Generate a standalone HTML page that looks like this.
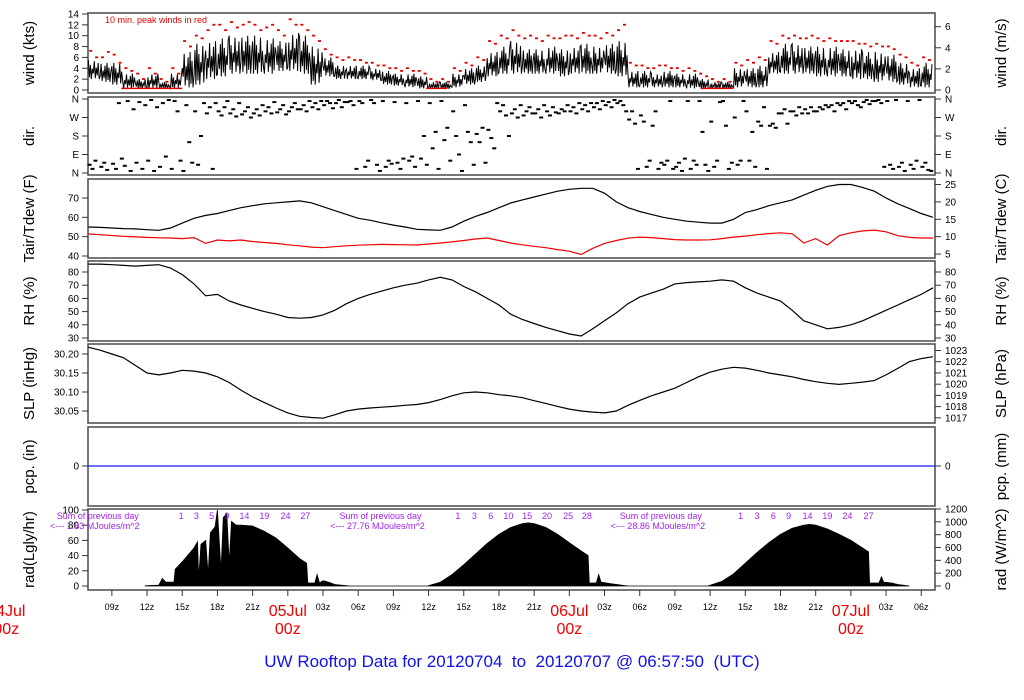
<!DOCTYPE html>
<html><head><meta charset="utf-8"><style>
html,body{margin:0;padding:0;background:#fff;}
svg{display:block;font-family:"Liberation Sans",Arial,sans-serif;}
</style></head><body>
<svg id="chart" width="1024" height="700" viewBox="0 0 1024 700" xmlns="http://www.w3.org/2000/svg">
<text x="512" y="667" text-anchor="middle" font-size="17" fill="#1010ee" style="white-space:pre">UW Rooftop Data for 20120704  to  20120707 @ 06:57:50  (UTC)</text>
</svg>
<script>
// ---- data (hourly, starting hour 7 of 04Jul UTC) ----
const H0 = 7;
const windHi = [5.5,5,5,3,2,3,1.5,3,7,8.5, 9,9.5,10,10,10,9.5,9,10.5,10,8, 6,4.5,4.5,4.5,4,3.5,3,3,2.5,1.5, 1.5,3,4,4.5,7,8,9,7.5,7.5,8, 7.5,8,8.5,8,8.5,9,3.5,3.5,3,3.5, 3,3,2,1.5,1.5,4,4,4.5,7,8.5, 8.5,8,8,8,7.5,7.5,7,7,6.5,5, 4,5];
const windLo = [2,1.5,1,0.3,0.3,0.3,0.3,0.3,0.5,1, 2,2.5,3,3,3,3,3.5,3.5,3,1, 2.5,2,2,2,1.8,1,0.8,0.5,0.3,0.2, 0.2,0.5,1,1.5,2.5,3,3,3,3,3, 2.5,3,3,3,3,2.5,0.5,0.5,0.5,0.5, 0.5,0.3,0.2,0.2,0.2,0.5,0.5,0.5,3,3, 3,3,2.5,2.5,2.5,2,2,1.5,1.5,1, 0.5,0.5];
const peakA = [7.2,6,6.5,4,3,4,2,4,9,10, 11,12,12.5,12,12,11.5,11,13,12,10, 7.5,6,6,5.5,5,4.5,4,4,3.5,2, 2,4,5,6,9,10,11,9.5,9.5,10, 9.5,10,10.5,10,10.5,11,5,4.5,4,4.5, 4,4,3,2,2,5,5.5,6,9,10, 10,9.5,9.5,9.5,9,9,8.5,8.5,8,6.5, 5,6];
const peakB = [6,7,5,3.5,2,3,1.5,3,8,9.5, 12,11,11.5,12.5,11,12,10,12,11,9, 6.5,5.5,5.5,5,4.5,4,3.5,3.5,3,1.5, 1.5,3.5,4.5,5.5,8.5,9.5,10,10,9,9.5, 10,9.5,10,9.5,10,12,4.5,4,4.5,4, 3.5,3.5,2.5,1.5,1.5,4.5,5,5.5,8.5,9.5, 9.5,10,9,9,9,8.5,8,8,7.5,6, 4.5,5.5];
const calmStart = [9.8, 35.8, 59.2];
const calmEnd = [15, 37.6, 62];
const dirA = [40,30,45,35,50,60,30,20,10,300, 290,300,290,285,290,300,295,300,310,320, 330,340,345,350,355,350,345,340,350,340, 350,300,330,190,210,300,290,280,290,300, 290,300,310,320,330,340,260,280,230,40, 30,350,350,250,350,270,300,250,230,290, 300,310,300,320,330,340,345,350,350,30, 40,30];
const dirB = [20,50,20,350,345,355,340,350,330,40, 320,280,310,300,310,320,310,320,330,340, 350,355,350,340,340,30,50,60,70,120, 160,180,200,150,170,330,310,300,310,280, 310,320,330,340,345,350,300,250,300,60, 50,20,200,30,230,40,60,230,240,310, 280,290,320,330,340,350,355,355,40,50, 20,50];
const dirC = [60,15,340,10,20,10,80,300,150,180, 20,320,275,320,280,290,330,340,300,310, 340,320,330,30,40,60,20,80,180,200, 220,90,150,220,120,280,270,320,270,320, 300,290,300,310,320,330,240,30,20,350, 10,60,40,60,20,60,200,320,220,240, 320,320,310,300,310,330,335,340,20,10, 60,15];
const dirD = [null,null,70,310,330,320,355,60,50,340, 340,350,340,270,330,345,285,310,350,350, 315,345,20,60,10,45,70,30,40,20, 60,10,40,50,340,180,330,290,330,295, 330,340,340,350,355,300,20,60,50,20, 70,40,10,345,50,350,30,20,290,300, 290,300,330,340,350,320,350,30,355,350, 355,10];
const tair = [55,54.8,54.5,54.2,54,53.6,53.3,54.5,57,59.5, 61,62,63.5,65,66,67,67.5,68,68.5,67.5, 65.5,63.5,61.5,59.5,58.5,57.2,56,55,53.8,53.5, 53.3,55,58,60.5,62.5,65,67.4,69,70.5,72, 73.5,74.5,75,75,72.5,68,65,63,61.5,60, 59,58,57.5,57,57,59,62.5,64,66,67.5, 69,71.5,74,76,77,77,75.5,73.5,70,67, 64.5,62,60];
const tdew = [51.4,51,50.6,50.2,49.9,49.6,49.4,49.3,49,49.5, 46.5,48.3,47.8,48.3,47.5,47,46.5,45.8,45.3,44.6, 44.3,44.8,45.3,45.6,45.8,46,45.9,45.8,45.7,46.2, 46.7,47.3,48,48.8,49.3,48,46.7,45.8,45,44.3, 43.3,42.5,40.8,44,46.5,48,49.2,49.8,49.5,49, 48.5,48.3,48.3,48.4,49,49.8,50.3,51,51.6,52, 51.5,46.7,49,45.7,50.5,52,53,53.4,52.5,50.5, 49.6,49.3,49.3];
const rh = [86,86,85.5,85,84.5,85,85.5,83,78,71, 62,63,58,55,52.5,50,48,45.5,45,45.5, 47.5,51,56,60,63,65.5,68,70,71.5,74, 76,74,69,65,60,55,48,44,41,38, 35.5,33,31.5,37,43,49,56,61,64,67, 71,72,72.5,73,74,73,68,64,61,58, 51,43,40,37,38,40,43,47,51,55, 59,63,68];
const slp = [30.218,30.21,30.2,30.19,30.17,30.15,30.145,30.15,30.157,30.155, 30.15,30.14,30.125,30.105,30.087,30.072,30.058,30.045,30.036,30.033, 30.031,30.04,30.05,30.055,30.058,30.06,30.062,30.065,30.067,30.072, 30.08,30.09,30.098,30.1,30.098,30.093,30.09,30.085,30.077,30.07, 30.062,30.055,30.05,30.047,30.045,30.05,30.065,30.078,30.09,30.1, 30.11,30.125,30.14,30.152,30.16,30.165,30.163,30.157,30.15,30.145, 30.14,30.133,30.127,30.123,30.12,30.123,30.126,30.13,30.145,30.162, 30.18,30.188,30.193];
const pcp = [0, 0];
const radHours = [11.8,12,13,13.3,13.6,14.3,14.4,15,16,16.3,16.4,16.6,17,17.2,17.4,17.8,18,18.3,18.5,18.8,19,19.2,19.6,20,21,22,23,24,25,25.6,25.7,26.3,26.5,26.7,27,27.5,28,29.3,
  35.9,37,38,39,40,41,42,43,44,44.5,45,46,47,48,49,49.6,49.7,50.3,50.5,50.7,51.5,53,
  59.8,60,61,62,63,64,65,66,67,68,68.5,69,70,71,72,73,73.5,73.6,74.4,74.6,74.8,75.5,76,77];
const radVals = [0,0.5,1,10,5,5,22,32,50,58,10,55,60,15,70,78,100,20,90,95,30,85,80,80,79,72,63,50,36,30,4,4,15,4,7,5,2,0,
  0,5,15,28,42,56,68,77,82,83,82,77,68,57,46,40,4,4,15,5,3,0,
  0,1,6,16,30,44,57,68,76,80,81,80,75,68,60,50,45,4,4,12,5,4,2,0];
const sunLabels1 = ["1","3","5","9","14","19","24","27"];
const sunHours1 = [14.9,16.2,17.5,18.8,20.3,22,23.8,25.5];
const sunLabels2 = ["1","3","6","10","15","20","25","28"];
const sunHours2 = [38.5,39.9,41.3,42.8,44.4,46.1,47.9,49.5];
const sunLabels3 = ["1","3","6","9","14","19","24","27"];
const sunHours3 = [62.6,64,65.4,66.7,68.3,70,71.7,73.5];
const radSums = ["1.83","27.76","28.86"];
const radSumHours = [7.8,31.9,55.8];
const tickHours = [9,12,15,18,21,24,27,30,33,36,39,42,45,48,51,54,57,60,63,66,69,72,75,78];
const tickLabels = ["09z","12z","15z","18z","21z","","03z","06z","09z","12z","15z","18z","21z","","03z","06z","09z","12z","15z","18z","21z","","03z","06z"];
const dayHours = [0,24,48,72];
const dayLabels = ["04Jul","05Jul","06Jul","07Jul"];

// ---- geometry ----
const NS = "http://www.w3.org/2000/svg";
const svg = document.getElementById("chart");
const PL = 88, PR = 935;
function X(h){ return 6.3 + 11.73*h; }
function mk(tag, attrs, parent){
  const e = document.createElementNS(NS, tag);
  for (const k in attrs) e.setAttribute(k, attrs[k]);
  (parent||svg).appendChild(e);
  return e;
}
function txt(s, x, y, size, fill, anchor, parent){
  const t = mk("text", {x:x, y:y, "font-size":size, fill:fill||"#000", "text-anchor":anchor||"middle"}, parent);
  t.textContent = s;
  return t;
}
const panels = [
  {name:"wind", top:13, bot:93, left:"wind (kts)", right:"wind (m/s)"},
  {name:"dir", top:97, bot:175, left:"dir.", right:"dir."},
  {name:"temp", top:179, bot:258, left:"Tair/Tdew (F)", right:"Tair/Tdew (C)"},
  {name:"rh", top:261, bot:341, left:"RH (%)", right:"RH (%)"},
  {name:"slp", top:344, bot:423, left:"SLP (inHg)", right:"SLP (hPa)"},
  {name:"pcp", top:427, bot:506, left:"pcp. (in)", right:"pcp. (mm)"},
  {name:"rad", top:509, bot:590, left:"rad(Lgly/hr)", right:"rad (W/m^2)"}
];
const yWind = v => 90 - v*5.43;
const yDir = d => 173 - d*(74/360);
const yT = f => 256 - (f-40)*1.933;
const yRH = r => 338 - (r-30)*1.32;
const yP = p => 411 - (p-30.05)*380;
const yPcp = v => 466 - v*100;
const yRad = v => 586 - v*0.76;

panels.forEach(p => {
  const g = mk("g", {});
  
  
  const r = mk("rect", {x:PL, y:p.top, width:PR-PL, height:p.bot-p.top, fill:"none", stroke:"#555", "stroke-width":1.6}, g);
  
  
  const cy = (p.top+p.bot)/2;
  const l = txt(p.left, 0, 0, 15, "#000", "middle", g);
  l.setAttribute("transform", "translate(34," + cy + ") rotate(-90)");
  
  
  const rt = txt(p.right, 0, 0, 15, "#000", "middle", g);
  rt.setAttribute("transform", "translate(1006," + cy + ") rotate(-90)");
  
  
});

function leftTicks(vals, labels, yf, name){
  vals.forEach((v,i) => {
    const y = yf(v);
    const t = mk("line", {x1:82, x2:88, y1:y, y2:y, stroke:"#333"});
    
    
    const l = txt(labels[i], 79, y+3.5, 10, "#000", "end");
    
    
  });
}
function rightTicks(vals, labels, yf, name){
  vals.forEach((v,i) => {
    const y = yf(v);
    const t = mk("line", {x1:935, x2:941, y1:y, y2:y, stroke:"#333"});
    
    
    const l = txt(labels[i], 945, y+3.5, 10, "#000", "start");
    
    
  });
}
leftTicks([0,2,4,6,8,10,12,14], ["0","2","4","6","8","10","12","14"], yWind, "wind");
rightTicks([0,2,4,6].map(v=>v*1.944), ["0","2","4","6"], yWind, "wind");
leftTicks([0,90,180,270,360], ["N","E","S","W","N"], yDir, "dir");
rightTicks([0,90,180,270,360], ["N","E","S","W","N"], yDir, "dir");
leftTicks([40,50,60,70], ["40","50","60","70"], yT, "temp");
rightTicks([5,10,15,20,25].map(c=>c*1.8+32), ["5","10","15","20","25"], yT, "temp");
leftTicks([30,40,50,60,70,80], ["30","40","50","60","70","80"], yRH, "rh");
rightTicks([30,40,50,60,70,80], ["30","40","50","60","70","80"], yRH, "rh");
leftTicks([30.05,30.10,30.15,30.20], ["30.05","30.10","30.15","30.20"], yP, "slp");
rightTicks([1017,1018,1019,1020,1021,1022,1023].map(h=>h*0.02953), ["1017","1018","1019","1020","1021","1022","1023"], yP, "slp");
leftTicks([0], ["0"], yPcp, "pcp");
rightTicks([0], ["0"], yPcp, "pcp");
leftTicks([0,20,40,60,80,100], ["0","20","40","60","80","100"], yRad, "rad");
rightTicks([0,200,400,600,800,1000,1200].map(w=>w/1200*100*(77/76)), ["0","200","400","600","800","1000","1200"], yRad, "rad");

// ---- wind ----
// drawing pattern (fraction of hourly lo..hi range) to mimic gusty trace
const wigglePattern = [1, 0.1, 0.75, 0, 0.55, 0.3, 0.95, 0.05, 0.6, 0.2, 0.85, 0];
let wp = [];
windHi.forEach((hi,i) => {
  const lo = windLo[i];
  const h = H0 + i;
  const n = wigglePattern.length;
  for (let k=0;k<n;k++){
    const f = wigglePattern[(k + i*5) % n];
    const v = lo + (hi-lo)*f;
    wp.push(X(h + k/n).toFixed(1) + "," + yWind(v).toFixed(1));
  }
});
const wl = mk("polyline", {points:wp.join(" "), fill:"none", stroke:"#000", "stroke-width":1});


calmStart.forEach((s,i) => {
  const c = mk("line", {x1:X(s), x2:X(calmEnd[i]), y1:yWind(0.3), y2:yWind(0.3), stroke:"#e00000", "stroke-width":1.5});
  
  
});
[peakA, peakB].forEach((arr, j) => {
  arr.forEach((v,i) => {
    const x = X(H0 + i + (j===0 ? 0.2 : 0.7));
    const m = mk("rect", {x:x-1.5, y:yWind(v)-1, width:3, height:1.8, fill:"#e00000"});
    
    
  });
});
const pkLbl = txt("10 min. peak winds in red", 105, 23, 9, "#e00000", "start");



// ---- direction ----
const dirOff = [0.1, 0.35, 0.6, 0.85];
[dirA, dirB, dirC, dirD].forEach((arr, j) => {
  arr.forEach((d,i) => {
    if (d === null) return;
    const x = X(H0 + i + dirOff[j]);
    const m = mk("rect", {x:x-2, y:yDir(d)-1, width:4, height:2, fill:"#000"});
    
    
  });
});

// ---- generic line series ----
function series(arr, yf, color, name){
  const pts = arr.map((v,i) => X(H0+i).toFixed(1) + "," + yf(v).toFixed(1)).join(" ");
  const l = mk("polyline", {points:pts, fill:"none", stroke:color, "stroke-width":1.2});
  
  
}
series(tair, yT, "#000", "air-temperature-line");
series(tdew, yT, "#ee0000", "dewpoint-line");
series(rh, yRH, "#000", "relative-humidity-line");
series(slp, yP, "#000", "sea-level-pressure-line");
const pl = mk("line", {x1:PL, x2:PR, y1:yPcp(pcp[0]), y2:yPcp(pcp[1]), stroke:"#1a1aff", "stroke-width":1.2});



// ---- radiation ----
let rp = [];
radHours.forEach((h,i) => { rp.push(X(h).toFixed(1) + "," + yRad(radVals[i]).toFixed(1)); });
const rpoly = mk("polygon", {points: X(radHours[0]).toFixed(1)+","+yRad(0)+" "+rp.join(" ")+" "+X(radHours[radHours.length-1]).toFixed(1)+","+yRad(0), fill:"#000", stroke:"#000", "stroke-width":0.8});


[[sunLabels1,sunHours1],[sunLabels2,sunHours2],[sunLabels3,sunHours3]].forEach(pair => {
  pair[0].forEach((s,i) => {
    const t = txt(s, X(pair[1][i]), 519, 9, "#a020f0", "middle");
    
    
  });
});
radSums.forEach((s,i) => {
  const x = X(radSumHours[i]);
  const a = txt("Sum of previous day", x, 519, 9, "#a020f0", "middle");
  
  
  const b = txt("<--- " + s + " MJoules/m^2", x - 3, 529, 9, "#a020f0", "middle");
  
  
});

// ---- time axis ----
tickHours.forEach((h,i) => {
  const x = X(h);
  const t = mk("line", {x1:x, x2:x, y1:590, y2:596, stroke:"#333"});
  
  
  if (tickLabels[i]) {
    const l = txt(tickLabels[i], x, 610, 9, "#000", "middle");
    
    
  }
});
dayHours.forEach((h,i) => {
  const x = X(h);
  const a = txt(dayLabels[i], x, 616, 16, "#ee0000", "middle");
  
  
  const b = txt("00z", x, 634, 16, "#ee0000", "middle");
  
  
});
</script>
</body></html>
